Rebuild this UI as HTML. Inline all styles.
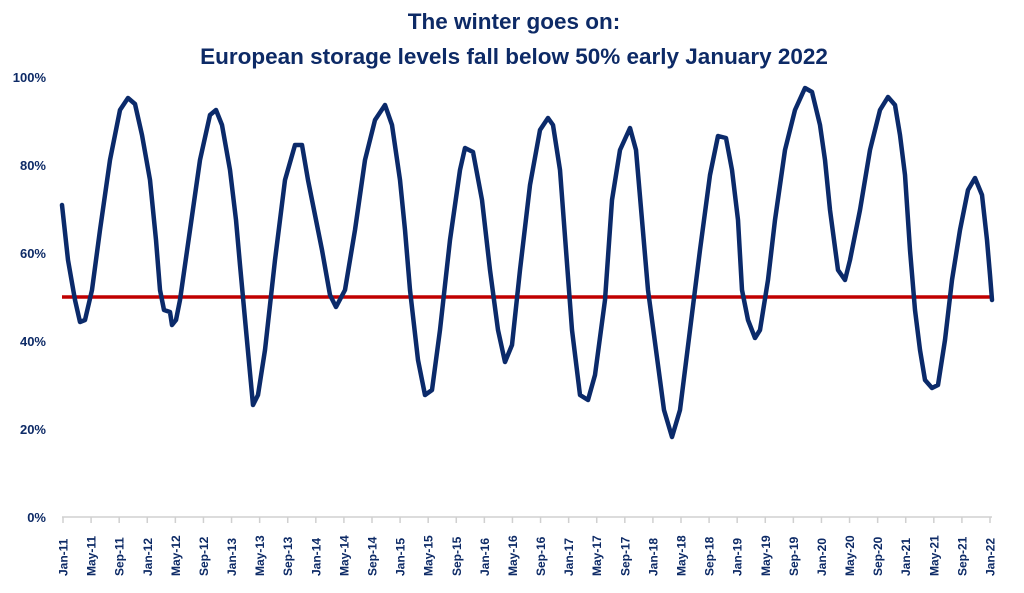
<!DOCTYPE html>
<html><head><meta charset="utf-8"><style>
body{margin:0;background:#fff;width:1024px;height:588px;overflow:hidden;font-family:"Liberation Sans",sans-serif}
</style></head><body>
<svg width="1024" height="588" xmlns="http://www.w3.org/2000/svg" font-family="Liberation Sans, sans-serif">
<text x="514" y="29" text-anchor="middle" font-size="22.5" font-weight="bold" fill="#0d2a66">The winter goes on:</text>
<text x="514" y="64" text-anchor="middle" font-size="22.5" font-weight="bold" fill="#0d2a66">European storage levels fall below 50% early January 2022</text>
<g font-size="13" font-weight="bold" fill="#0d2a66" text-anchor="end">
<text x="46" y="82">100%</text><text x="46" y="170">80%</text><text x="46" y="258">60%</text><text x="46" y="346">40%</text><text x="46" y="434">20%</text><text x="46" y="522">0%</text>
</g>
<line x1="62" y1="517" x2="992" y2="517" stroke="#d0d0d0" stroke-width="1.5"/>
<g id="ticks" stroke="#d0d0d0" stroke-width="1.5"></g>
<g id="labels" font-size="12" font-weight="bold" fill="#0d2a66"></g>
<line x1="62" y1="297" x2="992" y2="297" stroke="#c00000" stroke-width="3.5"/>
<polyline fill="none" stroke="#0b2a6a" stroke-width="4.5" stroke-linejoin="round" stroke-linecap="round" points="62,205 68,260 75,300 80,322 85,320 92,290 100,230 110,160 120,110 128,98 135,104 142,135 150,180 156,240 160,290 164,310 170,312 172,325 176,320 180,300 190,230 200,160 210,115 216,110 222,125 230,170 236,220 240,265 246,330 253,405 258,395 265,350 275,260 285,180 295,145 302,145 308,180 315,215 322,250 330,295 336,307 345,290 355,230 365,160 375,120 385,105 392,125 400,180 405,230 410,290 418,360 425,395 432,390 440,330 450,240 460,170 465,148 473,152 482,200 490,270 498,330 505,362 512,345 520,270 530,185 540,130 548,118 553,125 560,170 566,250 572,330 580,395 588,400 595,375 605,300 612,200 620,150 630,128 636,150 642,220 648,290 656,350 664,410 672,437 680,410 690,330 700,250 710,175 718,136 726,138 732,170 738,220 742,290 748,320 755,338 760,330 768,280 775,220 785,150 795,110 805,88 812,92 820,125 825,160 830,210 838,270 845,280 850,260 860,210 870,150 880,110 888,97 895,105 900,135 905,175 910,250 915,310 920,350 925,380 932,388 938,385 945,340 952,280 960,230 968,190 975,178 982,195 987,240 990,275 992,300"/>
</svg>
<script>
var m=["Jan","May","Sep"],t=document.getElementById("ticks"),l=document.getElementById("labels"),ns="http://www.w3.org/2000/svg";
for(var i=0;i<=33;i++){var x=63+i*(927/33);var ln=document.createElementNS(ns,"line");ln.setAttribute("x1",x);ln.setAttribute("x2",x);ln.setAttribute("y1",517);ln.setAttribute("y2",523);t.appendChild(ln);
var tx=document.createElementNS(ns,"text");var yr=11+Math.floor(i/3);tx.textContent=m[i%3]+"-"+yr;tx.setAttribute("transform","translate("+(x+4.5)+",576) rotate(-90)");l.appendChild(tx);}
</script>
</body></html>
